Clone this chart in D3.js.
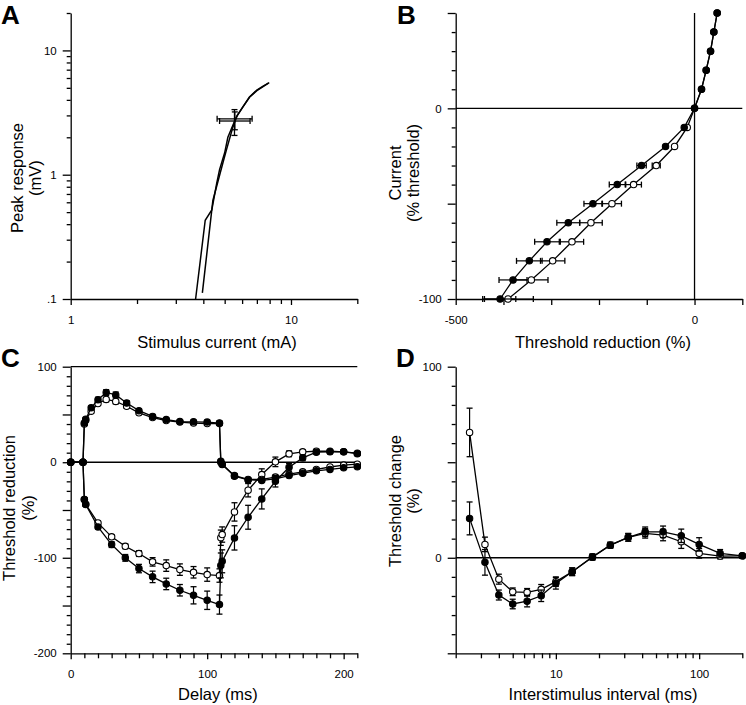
<!DOCTYPE html>
<html><head><meta charset="utf-8">
<script src="https://cdn.jsdelivr.net/npm/d3@7"></script>
<style>
html,body{margin:0;padding:0;background:#fff;}
svg{display:block;font-family:"Liberation Sans",Arial,Helvetica,sans-serif;}
</style></head><body>
<svg id="chart" width="746" height="705"></svg>
<script>
// ---------- Panel A: stimulus-response ----------
const aCurve1X = [3.69, 4.08, 4.37, 4.6, 4.74, 5.0, 5.17, 5.64, 6.04, 6.48, 7.0, 7.44, 7.97];
const aCurve1Y = [0.1, 0.43, 0.52, 0.85, 1.1, 1.5, 2.0, 2.9, 3.5, 4.22, 4.8, 5.14, 5.5];
const aCurve2X = [3.96, 4.42, 4.94, 5.1, 5.44, 5.7, 6.04, 6.48, 7.0, 7.44, 7.9];
const aCurve2Y = [0.112, 0.62, 1.3, 1.6, 2.4, 3.0, 3.5, 4.2, 4.75, 5.1, 5.45];
const aPointX = [5.54, 5.56];
const aPointY = [2.74, 2.78];
const aPointXLo = [4.62, 4.74];
const aPointXHi = [6.66, 6.52];
const aPointYLo = [2.07, 2.3];
const aPointYHi = [3.34, 3.2];
const aXMajor = [1, 10], aXLabels = ["1", "10"];
const aXMinor = [2, 3, 4, 5, 6, 7, 8, 9, 20];
const aYMajor = [0.1, 1, 10], aYLabels = [".1", "1", "10"];
const aYMinor = [0.2, 0.3, 0.4, 0.5, 0.6, 0.7, 0.8, 0.9, 2, 3, 4, 5, 6, 7, 8, 9, 20];

// ---------- Panel B: current-threshold ----------
const bCurrent = [50, 40, 30, 20, 10, 0, -10, -20, -30, -40, -50, -60, -70, -80, -90, -100];
const bFilled = [47.4, 40.4, 33.5, 24.4, 14.6, 0, -21.6, -60.7, -110.9, -161.8, -212.7, -264.3, -308.9, -345.9, -380, -407];
const bFilledErr = [0, 0, 0, 0, 0, 0, 0, 0, 9.8, 16.7, 18.8, 24, 25.8, 26.8, 29.3, 32.8];
const bOpen = [47.4, 40.4, 33.5, 24.4, 14.6, 0, -15.3, -41.8, -80.2, -127.6, -172.9, -216.9, -256.6, -297, -341.7, -390.5];
const bOpenErr = [0, 0, 0, 0, 0, 0, 0, 0, 8.4, 16.4, 19.9, 23.7, 24.4, 25.5, 34.9, 53];
const bXMajor = [-500, -400, -300, -200, -100, 0, 100], bXLabels = ["-500", "", "", "", "", "0", ""];
const bYMajor = [50, 0, -50, -100], bYLabels = ["", "0", "", "-100"];
const bYMinor = [40, 30, 20, 10, -10, -20, -30, -40, -60, -70, -80, -90];

// ---------- Panel C: threshold electrotonus ----------
const cDepDelay = [0, 9, 10, 11, 15, 20, 26, 33, 41, 50, 60, 70, 80, 90, 100, 109, 110, 111, 120, 130, 140, 150, 160, 170, 180, 190, 200, 210];
const cDepFilled = [0, 0, 41, 45, 57, 65.5, 73, 70.5, 62, 54, 48, 44.7, 42.6, 42.3, 42, 41, 1, -2.4, -14.6, -18.5, -19, -17.4, -14, -11.5, -9, -7.5, -5.8, -4.8];
const cDepFilledErr = [0, 0, 1.5, 1.5, 2, 2.5, 3, 3, 2.5, 2, 2, 1.5, 1.5, 1.5, 2, 2, 1.5, 1.5, 2, 2, 2, 2, 2, 1.5, 1.5, 1.5, 1.5, 1.5];
const cDepOpen = [0, 0, 40, 44, 53.4, 61.5, 65.7, 63.6, 58.6, 51.7, 46.8, 43.7, 42, 41, 40.5, 40.5, 0, -2, -14, -18, -18, -15.5, -12.5, -10, -7.5, -5, -3, -2];
const cDepOpenErr = [0, 0, 1.5, 1.5, 2, 2, 2.5, 2.5, 2, 2, 1.5, 1.5, 1.5, 1.5, 1.5, 1.5, 1.5, 1.5, 2, 2, 2, 2, 2, 1.5, 1.5, 1.5, 1.5, 1.5];
const cHypDelay = [0, 9, 10, 11, 20, 30, 40, 50, 60, 70, 80, 90, 100, 109, 110, 111, 120, 130, 140, 150, 160, 170, 180, 190, 200, 210];
const cHypFilled = [0, 0, -39, -44.3, -67.7, -86.2, -100.1, -111.3, -120, -127.4, -134, -139.3, -144.5, -149, -108, -103.7, -79.2, -57.6, -38.4, -19.9, -5.2, 4.6, 10.5, 10.9, 10.9, 9];
const cHypFilledErr = [0, 0, 1.5, 1.5, 2, 3, 3.5, 4.4, 6, 6, 6, 9, 9.6, 10, 13, 12, 12.7, 12.5, 10.5, 6, 4, 3, 2, 2, 2, 2];
const cHypOpen = [0, 0, -39, -44, -63.5, -78.1, -88, -95.6, -104.3, -108.2, -112.4, -115.2, -117.6, -118.6, -79, -75.7, -52, -29.3, -12.9, 0.4, 8.8, 10.9, 11.5, 11.5, 10.9, 9.5];
const cHypOpenErr = [0, 0, 1.5, 1.5, 2, 2, 2.5, 3, 4.4, 6, 6, 6, 7, 7, 8, 8, 9.6, 7, 6, 5, 3, 2, 2, 1.5, 1.5, 1.5];
const cXMajor = [0, 100, 200], cXLabels = ["0", "100", "200"];
const cXMinor = [10, 20, 30, 40, 50, 60, 70, 80, 90, 110, 120, 130, 140, 150, 160, 170, 180, 190, 210];
const cYMajor = [100, 50, 0, -50, -100, -150, -200], cYLabels = ["100", "", "0", "", "-100", "", "-200"];
const cYMinor = d3.range(-190, 100, 10).filter(v => v % 50 !== 0);

// ---------- Panel D: recovery cycle ----------
const dInterval = [2.5, 3.2, 4, 5, 6.3, 7.9, 10, 13, 18, 24, 32, 42, 56, 75, 100, 140, 200];
const dOpen = [65.6, 7, -11.2, -17.8, -18.1, -16.5, -12.5, -7.3, 0.5, 6.6, 10.7, 12.8, 11.9, 8.4, 2.3, 0.9, 1];
const dOpenErr = [12.7, 3.8, 2.6, 2, 2, 2.5, 2.5, 2, 1.5, 1.5, 2, 2.5, 3, 3.5, 2.5, 1.5, 1];
const dFilled = [20.6, -2.4, -19.5, -24.2, -22.7, -19.9, -13.4, -7.3, 0.3, 6.6, 10.7, 13.6, 13.6, 11.5, 7, 2.3, 1];
const dFilledErr = [8.6, 6.7, 2.6, 2.5, 3, 3, 3, 2, 1.5, 1.5, 2, 2.5, 3, 3.5, 3.5, 2, 1];
const dXMajor = [10, 100], dXLabels = ["10", "100"];
const dXMinor = [2, 3, 4, 5, 6, 7, 8, 9, 20, 30, 40, 50, 60, 70, 80, 90, 200];
const dYMajor = [100, 50, 0, -50], dYLabels = ["100", "", "0", ""];
const dYMinor = d3.range(-40, 100, 10).filter(v => v % 50 !== 0);

// ---------- drawing ----------
const svg = d3.select("#chart");
const LW = 1.3, TICKFONT = 11.5, TITLEFONT = 16.5;

function styleAxis(g) {
  g.attr("font-size", TICKFONT).attr("font-family", null);
  g.selectAll("path,line").attr("stroke", "#000").attr("stroke-width", LW);
  g.selectAll("text").attr("fill", "#000");
}
function yAxis(scale, x, majors, labels, minors) {
  svg.append("g").attr("transform", `translate(${x},0)`)
    .call(d3.axisLeft(scale).tickValues(minors).tickSize(4).tickFormat(""))
    .call(g => g.select(".domain").remove()).call(styleAxis);
  svg.append("g").attr("transform", `translate(${x},0)`)
    .call(d3.axisLeft(scale).tickValues(majors).tickSize(8).tickSizeOuter(0).tickPadding(6)
      .tickFormat((d, i) => labels[i])).call(styleAxis);
}
function xAxis(scale, y, majors, labels, minors) {
  if (minors.length) svg.append("g").attr("transform", `translate(0,${y})`)
    .call(d3.axisBottom(scale).tickValues(minors).tickSize(5).tickFormat(""))
    .call(g => g.select(".domain").remove()).call(styleAxis);
  svg.append("g").attr("transform", `translate(0,${y})`)
    .call(d3.axisBottom(scale).tickValues(majors).tickSize(6).tickSizeOuter(0).tickPadding(11)
      .tickFormat((d, i) => labels[i])).call(styleAxis);
}
function hLine(x1, x2, y) {
  svg.append("line").attr("x1", x1).attr("x2", x2).attr("y1", y).attr("y2", y)
    .attr("stroke", "#000").attr("stroke-width", LW);
}
function vLine(x, y1, y2) {
  svg.append("line").attr("x1", x).attr("x2", x).attr("y1", y1).attr("y2", y2)
    .attr("stroke", "#000").attr("stroke-width", LW);
}
function yTitle(lines, x1, x2, cy) {
  [x1, x2].forEach((x, i) => {
    svg.append("text").attr("transform", `translate(${x},${cy}) rotate(-90)`)
      .attr("text-anchor", "middle").attr("font-size", TITLEFONT).text(lines[i]);
  });
}
function xTitle(text, cx, y) {
  svg.append("text").attr("x", cx).attr("y", y).attr("text-anchor", "middle")
    .attr("font-size", TITLEFONT).text(text);
}
function letter(t, x, y) {
  svg.append("text").attr("x", x).attr("y", y).attr("font-size", 26).attr("font-weight", "bold").text(t);
}
// series: vertical error bars + line + markers
function seriesV(xs, ys, errs, sx, sy, open) {
  const idx = d3.range(xs.length);
  const g = svg.append("g");
  idx.forEach(i => {
    const e = errs[i];
    if (!e) return;
    const x = sx(xs[i]), y0 = sy(ys[i] - e), y1 = sy(ys[i] + e);
    g.append("line").attr("x1", x).attr("x2", x).attr("y1", y0).attr("y2", y1).attr("stroke", "#000").attr("stroke-width", 1.2);
    [y0, y1].forEach(yy => g.append("line").attr("x1", x - 3).attr("x2", x + 3).attr("y1", yy).attr("y2", yy).attr("stroke", "#000").attr("stroke-width", 1.3));
  });
  g.append("path").datum(idx).attr("fill", "none").attr("stroke", "#000").attr("stroke-width", LW)
    .attr("d", d3.line().x(i => sx(xs[i])).y(i => sy(ys[i])));
  g.selectAll("circle").data(idx).join("circle")
    .attr("cx", i => sx(xs[i])).attr("cy", i => sy(ys[i])).attr("r", 3.2)
    .attr("fill", open ? "#fff" : "#000").attr("stroke", "#000").attr("stroke-width", 1.1);
}
// series: horizontal error bars (panel B)
function seriesH(xs, ys, errs, sx, sy, open) {
  const idx = d3.range(xs.length);
  const g = svg.append("g");
  idx.forEach(i => {
    const e = errs[i];
    if (!e) return;
    const y = sy(ys[i]), x0 = sx(xs[i] - e), x1 = sx(xs[i] + e);
    g.append("line").attr("x1", x0).attr("x2", x1).attr("y1", y).attr("y2", y).attr("stroke", "#000").attr("stroke-width", 1.2);
    [x0, x1].forEach(xx => g.append("line").attr("x1", xx).attr("x2", xx).attr("y1", y - 3).attr("y2", y + 3).attr("stroke", "#000").attr("stroke-width", 1.3));
  });
  g.append("path").datum(idx).attr("fill", "none").attr("stroke", "#000").attr("stroke-width", LW)
    .attr("d", d3.line().x(i => sx(xs[i])).y(i => sy(ys[i])));
  g.selectAll("circle").data(idx).join("circle")
    .attr("cx", i => sx(xs[i])).attr("cy", i => sy(ys[i])).attr("r", 3.2)
    .attr("fill", open ? "#fff" : "#000").attr("stroke", "#000").attr("stroke-width", 1.1);
}

// ----- Panel A -----
const axA = d3.scaleLog().domain([1, 20]).range([70.7, 357.3]);
const ayA = d3.scaleLog().domain([0.1, 20]).range([299, 13]);
yAxis(ayA, 70.7, aYMajor, aYLabels, aYMinor);
xAxis(axA, 299, aXMajor, aXLabels, aXMinor);
[[aCurve1X, aCurve1Y], [aCurve2X, aCurve2Y]].forEach(([xs, ys]) => {
  svg.append("path").datum(d3.range(xs.length)).attr("fill", "none").attr("stroke", "#000").attr("stroke-width", 1.5)
    .attr("d", d3.line().x(i => axA(xs[i])).y(i => ayA(ys[i])));
});
aPointX.forEach((px, i) => {
  const cx = axA(px), cy = ayA(aPointY[i]);
  const xl = axA(aPointXLo[i]), xh = axA(aPointXHi[i]), yl = ayA(aPointYLo[i]), yh = ayA(aPointYHi[i]);
  const off = i === 0 ? -1.5 : 1.5;
  hLine(xl, xh, cy + off);
  vLine(xl, cy + off - 3, cy + off + 3); vLine(xh, cy + off - 3, cy + off + 3);
  vLine(cx, yl, yh);
  hLine(cx - 3, cx + 3, yl); hLine(cx - 3, cx + 3, yh);
});
yTitle(["Peak response", "(mV)"], 23, 41, 178);
xTitle("Stimulus current (mA)", 217, 347.5);
letter("A", 1, 23.5);

// ----- Panel B -----
const bx = d3.scaleLinear().domain([-500, 100]).range([455.7, 742.3]);
const by = d3.scaleLinear().domain([-100, 50]).range([299, 13]);
yAxis(by, 455.7, bYMajor, bYLabels, bYMinor);
xAxis(bx, 299, bXMajor, bXLabels, []);
hLine(bx(-500), bx(100), by(0));
vLine(bx(0), by(-100), by(50));
seriesH(bOpen, bCurrent, bOpenErr, bx, by, true);
seriesH(bFilled, bCurrent, bFilledErr, bx, by, false);
yTitle(["Current", "(% threshold)"], 401, 419, 173);
xTitle("Threshold reduction (%)", 603, 347.5);
letter("B", 397, 23.5);

// ----- Panel C -----
const cx = d3.scaleLinear().domain([0, 210]).range([70.7, 357.3]);
const cy = d3.scaleLinear().domain([-200, 100]).range([653.3, 366.7]);
yAxis(cy, 70.7, cYMajor, cYLabels, cYMinor);
xAxis(cx, 653.3, cXMajor, cXLabels, cXMinor);
hLine(cx(0), cx(210), cy(0));
hLine(cx(0), cx(210), cy(100));
seriesV(cHypDelay, cHypOpen, cHypOpenErr, cx, cy, true);
seriesV(cDepDelay, cDepOpen, cDepOpenErr, cx, cy, true);
seriesV(cHypDelay, cHypFilled, cHypFilledErr, cx, cy, false);
seriesV(cDepDelay, cDepFilled, cDepFilledErr, cx, cy, false);
yTitle(["Threshold reduction", "(%)"], 15, 34, 508);
xTitle("Delay (ms)", 218, 700);
letter("C", 1, 367);

// ----- Panel D -----
const dx = d3.scaleLog().domain([2, 200]).range([455.7, 742.3]);
const dy = d3.scaleLinear().domain([-50, 100]).range([653.3, 366.7]);
yAxis(dy, 455.7, dYMajor, dYLabels, dYMinor);
xAxis(dx, 653.3, dXMajor, dXLabels, dXMinor);
hLine(dx(2), dx(200), dy(0));
seriesV(dInterval, dOpen, dOpenErr, dx, dy, true);
seriesV(dInterval, dFilled, dFilledErr, dx, dy, false);
yTitle(["Threshold change", "(%)"], 401, 419, 501);
xTitle("Interstimulus interval (ms)", 603, 700);
letter("D", 396, 367);
</script></body></html>
